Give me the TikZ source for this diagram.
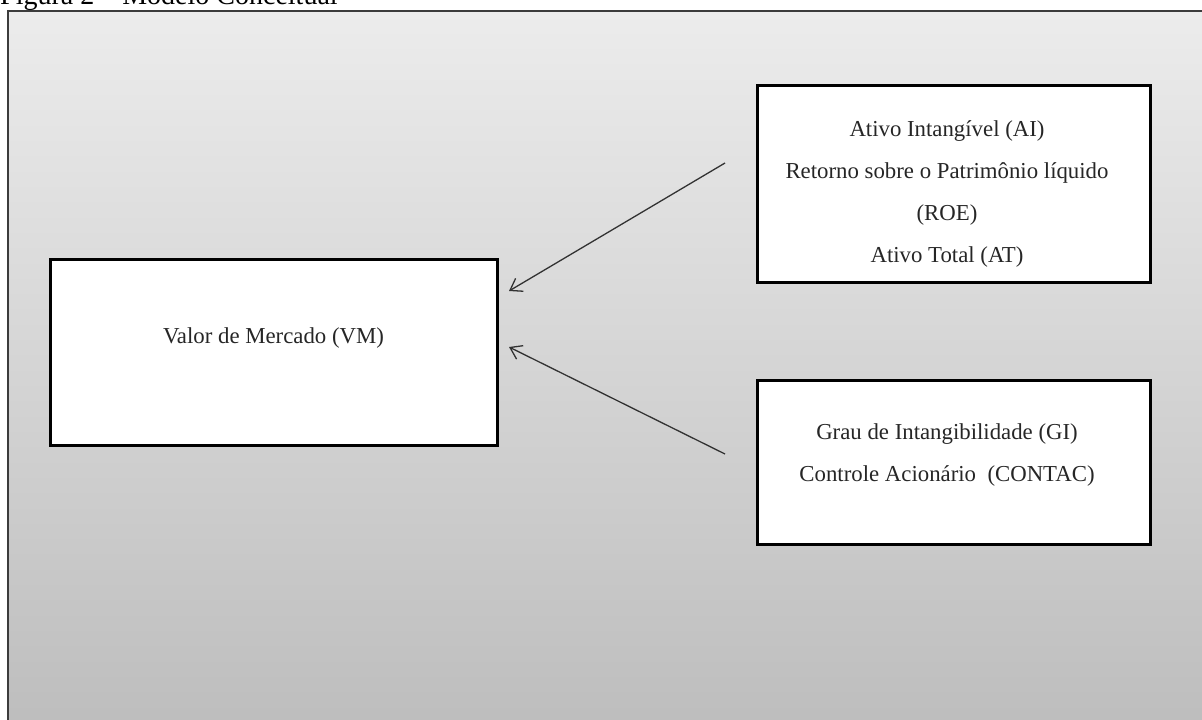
\documentclass[tikz,border=0pt]{standalone}
\usepackage{fontspec}
\setmainfont{Liberation Serif}
\usetikzlibrary{arrows.meta}
\definecolor{bgtop}{RGB}{236,236,236}
\definecolor{bgbot}{RGB}{189,189,189}
\definecolor{framec}{RGB}{60,60,60}
\definecolor{arrc}{RGB}{50,50,50}
\begin{document}
\begin{tikzpicture}[x=1pt,y=-1pt,
  box/.style={draw=black,line width=3pt,fill=white,inner sep=0pt},
  boxtext/.style={font=\fontsize{22.8}{42}\selectfont,align=center,inner sep=0pt,text=black!85},
  conn/.style={draw=arrc,line width=1.3pt,-{Straight Barb[length=11pt,width=15pt,line width=1.3pt]}}]
\useasboundingbox (0,0) rectangle (1202,720);
\clip (0,0) rectangle (1202,720);
\fill[white] (0,0) rectangle (1202,720);
\shade[top color=bgtop,bottom color=bgbot] (8,10.5) rectangle (1212,730);
\draw[framec,line width=2pt] (8,730) -- (8,10.5) -- (1212,10.5);
\node[anchor=base west,inner sep=0pt,font=\fontsize{28}{32}\selectfont] (title) at (0,5) {Figura 2 -- Modelo Conceitual};
% boxes
\node[box,minimum width=447pt,minimum height=186pt] (vm) at (273.5,352) {};
\node[boxtext] (vmtext) at (273.5,338) {Valor de Mercado (VM)};
\node[box,minimum width=393pt,minimum height=197pt] (tr) at (953.5,183.5) {};
\node[boxtext] (trtext) at (947,194) {Ativo Intangível (AI)\\Retorno sobre o Patrimônio  líquido\\(ROE)\\Ativo Total (AT)};
\node[box,minimum width=393pt,minimum height=164pt] (br) at (953.5,462) {};
\node[boxtext] (brtext) at (947,455) {Grau de Intangibilidade (GI)\\Controle Acionário\ \ (CONTAC)};
% connectors
\coordinate (a1s) at (725,163);
\coordinate (a1e) at (509,291);
\coordinate (a2s) at (725,454);
\coordinate (a2e) at (509,347);
\draw[conn] (a1s) -- (a1e);
\draw[conn] (a2s) -- (a2e);
\end{tikzpicture}
\end{document}
